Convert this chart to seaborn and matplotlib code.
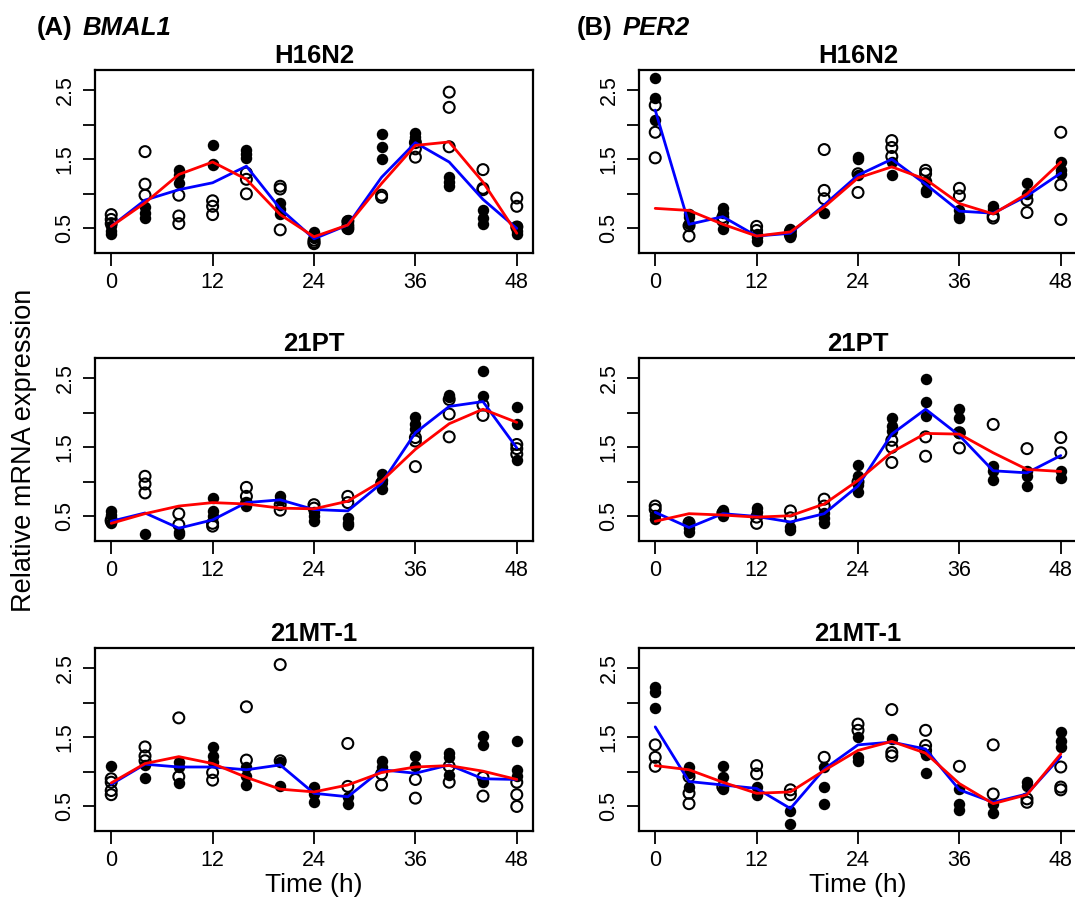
import matplotlib
matplotlib.use("Agg")
import matplotlib.pyplot as plt
import seaborn as sns
import pandas as pd

# ---------------- data ----------------
TIMES = [0, 4, 8, 12, 16, 20, 24, 28, 32, 36, 40, 44, 48]
XTICKS = [0, 12, 24, 36, 48]
YTICKS = [0.5, 1.0, 1.5, 2.0, 2.5]
YTICKLABELS = ["0.5", "", "1.5", "", "2.5"]
CELL_LINES = ["H16N2", "21PT", "21MT-1"]
GENES = ["BMAL1", "PER2"]
PANEL_TAGS = ["(A)", "(B)"]

# BMAL1 / H16N2
BMAL1_H16N2_FILLED = [[0.53, 0.47, 0.42], [0.81, 0.72, 0.65], [1.34, 1.27, 1.15], [1.70, 1.43, 1.41],
                      [1.64, 1.52, 1.58], [0.87, 0.71, 0.78], [0.45, 0.40, 0.36], [0.62, 0.57, 0.49],
                      [1.86, 1.67, 1.50], [1.88, 1.82, 1.78], [1.24, 1.17, 1.12], [0.77, 0.65, 0.57],
                      [0.53, 0.47, 0.42]]
BMAL1_H16N2_OPEN = [[0.70, 0.63, 0.57], [1.61, 1.14, 0.98], [0.98, 0.68, 0.57], [0.90, 0.82, 0.70],
                    [1.30, 1.21, 1.00], [1.11, 1.07, 0.48], [0.33, 0.30, 0.28], [0.60, 0.53, 0.50],
                    [0.98, 0.95], [1.74, 1.65, 1.53], [2.47, 2.25, 1.68], [1.35, 1.08, 1.06],
                    [0.94, 0.82, 0.52]]
BMAL1_H16N2_MEAN = [0.53, 0.91, 1.06, 1.16, 1.40, 0.785, 0.35, 0.55, 1.24, 1.74, 1.46, 0.92, 0.50]
BMAL1_H16N2_FIT = [0.53, 0.87, 1.28, 1.46, 1.21, 0.70, 0.38, 0.55, 1.15, 1.70, 1.75, 1.17, 0.43]

# PER2 / H16N2
PER2_H16N2_FILLED = [[2.68, 2.38, 2.07], [0.71, 0.66, 0.56], [0.80, 0.73, 0.49], [0.42, 0.37, 0.32],
                     [0.49, 0.42, 0.37], [0.72], [1.53, 1.51, 1.27], [1.46, 1.27], [1.19, 1.06, 1.02],
                     [0.77, 0.68, 0.65], [0.83, 0.78], [1.15, 1.00], [1.46, 1.34, 1.29]]
PER2_H16N2_OPEN = [[2.28, 1.89, 1.52], [0.54, 0.39], [0.66, 0.61], [0.53, 0.47], [0.46, 0.40],
                   [1.64, 1.05, 0.93], [1.29, 1.02], [1.77, 1.67, 1.54], [1.34, 1.29], [1.08, 0.97],
                   [0.68, 0.65], [0.91, 0.73], [1.89, 1.13, 0.63]]
PER2_H16N2_MEAN = [2.21, 0.56, 0.67, 0.39, 0.43, 0.84, 1.27, 1.50, 1.14, 0.75, 0.72, 0.97, 1.30]
PER2_H16N2_FIT = [0.79, 0.76, 0.56, 0.39, 0.45, 0.81, 1.23, 1.39, 1.21, 0.86, 0.71, 1.00, 1.46]

# BMAL1 / 21PT
BMAL1_21PT_FILLED = [[0.58, 0.52, 0.40], [0.25], [0.28, 0.25], [0.77, 0.58, 0.50], [0.65, 0.69],
                     [0.80, 0.74], [0.57, 0.50, 0.43], [0.48, 0.41, 0.38], [1.11, 1.03, 0.89],
                     [1.94, 1.83, 1.76], [2.26, 2.22], [2.60, 2.24], [2.08, 1.83, 1.31]]
BMAL1_21PT_OPEN = [[0.45, 0.43], [1.08, 0.97, 0.84], [0.54, 0.38], [0.40, 0.36], [0.92, 0.79, 0.69],
                   [0.67, 0.59], [0.67, 0.62], [0.79, 0.70], [0.98], [1.64, 1.59, 1.22],
                   [2.19, 1.98, 1.65], [2.11, 1.96], [1.54, 1.48, 1.40]]
BMAL1_21PT_MEAN = [0.43, 0.55, 0.33, 0.45, 0.70, 0.74, 0.60, 0.58, 0.98, 1.71, 2.09, 2.16, 1.49]
BMAL1_21PT_FIT = [0.40, 0.54, 0.65, 0.70, 0.68, 0.62, 0.61, 0.72, 1.01, 1.47, 1.84, 2.05, 1.86]

# PER2 / 21PT
PER2_21PT_FILLED = [[0.52, 0.47], [0.40, 0.33, 0.27], [0.60, 0.55, 0.50], [0.62, 0.56], [0.35, 0.31],
                    [0.55, 0.48, 0.41], [1.25, 1.08, 0.96, 0.86], [1.93, 1.81, 1.73], [2.48, 2.16, 1.95],
                    [2.05, 1.93, 1.71], [1.23, 1.15, 1.03], [1.15, 1.08, 0.94], [1.15, 1.05]]
PER2_21PT_OPEN = [[0.65, 0.60], [0.41], [0.55], [0.49, 0.40], [0.58, 0.48], [0.75, 0.65], [1.00],
                  [1.60, 1.50, 1.28], [1.65, 1.37], [1.71, 1.49], [1.83], [1.48], [1.64, 1.42]]
PER2_21PT_MEAN = [0.56, 0.34, 0.54, 0.50, 0.42, 0.54, 0.94, 1.69, 2.05, 1.67, 1.16, 1.13, 1.38]
PER2_21PT_FIT = [0.43, 0.54, 0.52, 0.49, 0.51, 0.68, 1.02, 1.43, 1.70, 1.69, 1.42, 1.18, 1.15]

# BMAL1 / 21MT-1
BMAL1_21MT1_FILLED = [[1.08], [1.10, 0.91], [1.14, 1.07, 0.84], [1.36, 1.23, 1.14], [1.07, 0.94, 0.81],
                      [1.14, 0.80], [0.78, 0.68, 0.56], [0.63, 0.54], [1.15, 1.07], [1.23, 1.09],
                      [1.27, 1.21, 0.96], [1.52, 1.39, 0.85], [1.44, 1.02, 0.94]]
BMAL1_21MT1_OPEN = [[0.90, 0.85, 0.73, 0.67], [1.36, 1.23, 1.16], [1.78, 0.93], [0.99, 0.88],
                    [1.94, 1.17], [2.55, 1.16], [], [1.41, 0.79], [0.97, 0.81], [0.89, 0.62],
                    [1.08, 0.85], [0.92, 0.65], [0.85, 0.67, 0.50]]
BMAL1_21MT1_MEAN = [0.82, 1.11, 1.07, 1.07, 1.03, 1.10, 0.69, 0.64, 1.03, 0.98, 1.10, 0.90, 0.89]
BMAL1_21MT1_FIT = [0.84, 1.12, 1.22, 1.12, 0.92, 0.75, 0.71, 0.81, 0.99, 1.07, 1.09, 1.01, 0.89]

# PER2 / 21MT-1
PER2_21MT1_FILLED = [[2.22, 2.15, 1.92], [1.07, 0.99, 0.78], [1.08, 0.92, 0.75], [0.78, 0.67],
                     [0.44, 0.25], [1.07, 0.78, 0.54], [1.50, 1.21, 1.16], [1.47], [1.24, 0.99],
                     [0.75, 0.53, 0.45], [0.53, 0.40], [0.85, 0.79], [1.57, 1.45, 1.36]]
PER2_21MT1_OPEN = [[1.39, 1.21, 1.08], [0.93, 0.69, 0.54], [0.78], [1.09, 0.97], [0.74, 0.67], [1.21],
                   [1.69, 1.60], [1.90, 1.28, 1.23], [1.60, 1.38, 1.31], [1.08], [1.39, 0.68],
                   [0.61, 0.56], [1.07, 0.78, 0.74]]
PER2_21MT1_MEAN = [1.65, 0.86, 0.81, 0.76, 0.47, 1.04, 1.39, 1.43, 1.33, 0.74, 0.56, 0.68, 1.22]
PER2_21MT1_FIT = [1.09, 1.03, 0.85, 0.69, 0.71, 1.02, 1.31, 1.44, 1.27, 0.83, 0.54, 0.67, 1.26]

PANELS = [
    [(BMAL1_H16N2_FILLED, BMAL1_H16N2_OPEN, BMAL1_H16N2_MEAN, BMAL1_H16N2_FIT),
     (PER2_H16N2_FILLED, PER2_H16N2_OPEN, PER2_H16N2_MEAN, PER2_H16N2_FIT)],
    [(BMAL1_21PT_FILLED, BMAL1_21PT_OPEN, BMAL1_21PT_MEAN, BMAL1_21PT_FIT),
     (PER2_21PT_FILLED, PER2_21PT_OPEN, PER2_21PT_MEAN, PER2_21PT_FIT)],
    [(BMAL1_21MT1_FILLED, BMAL1_21MT1_OPEN, BMAL1_21MT1_MEAN, BMAL1_21MT1_FIT),
     (PER2_21MT1_FILLED, PER2_21MT1_OPEN, PER2_21MT1_MEAN, PER2_21MT1_FIT)],
]


def long_points(per_time):
    rows = []
    for t, vals in zip(TIMES, per_time):
        for v in vals:
            rows.append({"time": t, "value": v})
    return pd.DataFrame(rows, columns=["time", "value"])


# ---------------- figure ----------------
sns.set_theme(style="ticks")
plt.rcParams["font.family"] = ["Liberation Sans", "DejaVu Sans"]
plt.rcParams["text.color"] = "black"
plt.rcParams["axes.labelcolor"] = "black"
plt.rcParams["xtick.color"] = "black"
plt.rcParams["ytick.color"] = "black"

W, H = 1075, 900
fig = plt.figure(figsize=(W / 100, H / 100), dpi=100)

col_left = [95, 639]
row_top = [70, 358, 648]
ax_w, ax_h = 438, 183

for r, cell in enumerate(CELL_LINES):
    for c in range(2):
        filled, opened, mean_line, fit_line = PANELS[r][c]
        ax = fig.add_axes([col_left[c] / W, 1 - (row_top[r] + ax_h) / H, ax_w / W, ax_h / H])

        dfo = long_points(opened)
        dff = long_points(filled)
        if len(dfo):
            sns.scatterplot(data=dfo, x="time", y="value", ax=ax, color="black", s=62,
                            marker="o", linewidth=1.5, legend=False, zorder=2)
            ax.collections[-1].set_facecolor("none")
            ax.collections[-1].set_edgecolor("black")
        sns.scatterplot(data=dff, x="time", y="value", ax=ax, color="black", s=68,
                        marker="o", linewidth=0, legend=False, zorder=2)
        sns.lineplot(x=TIMES, y=mean_line, ax=ax, color="#0000FF", linewidth=2.0, zorder=3)
        sns.lineplot(x=TIMES, y=fit_line, ax=ax, color="#FF0000", linewidth=2.0, zorder=4)

        ax.set_xlim(-1.92, 49.92)
        ax.set_ylim(0.145, 2.79)
        ax.set_xticks(XTICKS)
        ax.set_xticklabels([str(x) for x in XTICKS])
        ax.set_yticks(YTICKS)
        ax.set_yticklabels(YTICKLABELS, rotation=90, va="center")
        ax.set_xlabel("")
        ax.set_ylabel("")
        for sp in ax.spines.values():
            sp.set_visible(True)
            sp.set_linewidth(1.6)
            sp.set_color("black")
        ax.tick_params(direction="out", length=9, width=1.3, color="black",
                       labelsize=15.5, pad=5, labelcolor="black")
        ax.set_title(cell, fontsize=18.5, fontweight="bold", pad=5, color="black")
        ax.set_facecolor("white")
        ax.grid(False)

# panel headings
heads = [(37, PANEL_TAGS[0], 83, GENES[0]), (577, PANEL_TAGS[1], 623, GENES[1])]
for x_tag, tag, x_gene, gene in heads:
    fig.text(x_tag / W, 1 - 35 / H, tag, fontsize=18.5, fontweight="bold", ha="left", va="baseline")
    fig.text(x_gene / W, 1 - 35 / H, gene, fontsize=18.5, fontweight="bold", style="italic",
             ha="left", va="baseline")

# shared axis labels
fig.text(24 / W, 450 / H, "Relative mRNA expression", rotation=90, fontsize=19.5,
         ha="center", va="center")
for c in range(2):
    fig.text((col_left[c] + ax_w / 2) / W, 1 - 892 / H, "Time (h)", fontsize=19,
             ha="center", va="baseline")

fig.savefig("out.png", dpi=100, facecolor="white")
